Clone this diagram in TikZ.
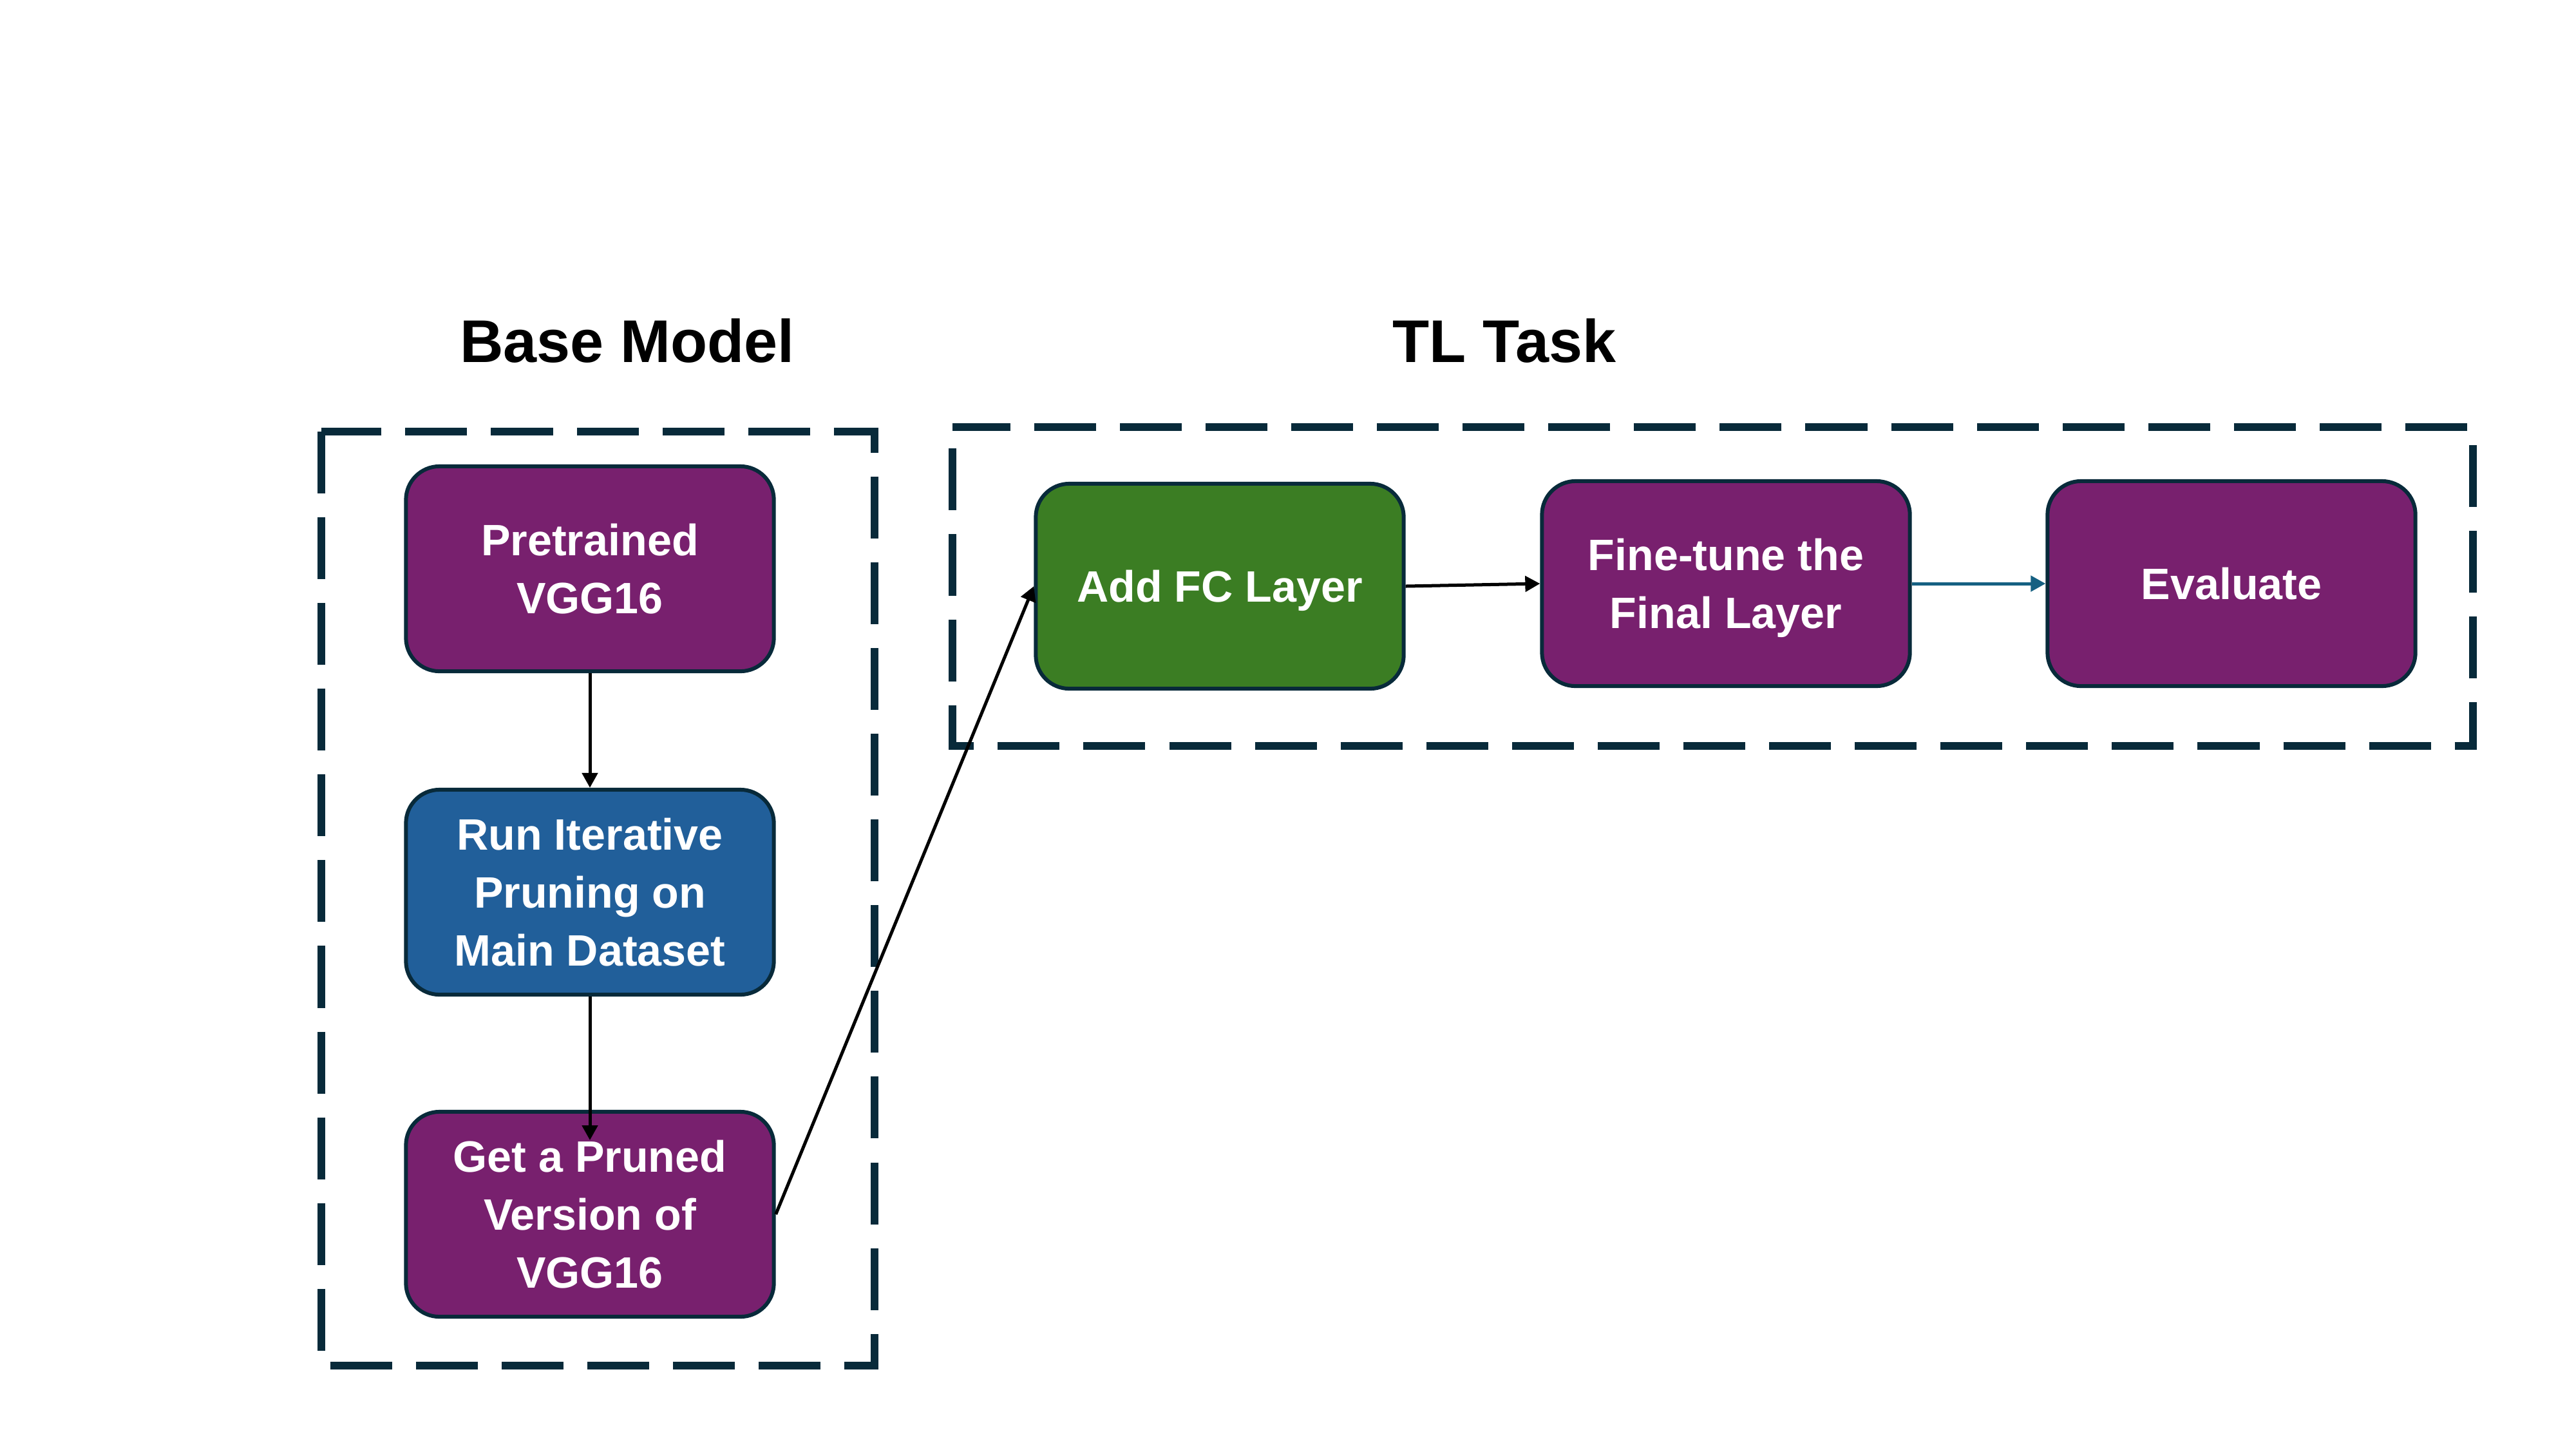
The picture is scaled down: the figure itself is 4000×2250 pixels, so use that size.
\documentclass[tikz,border=0pt]{standalone}
\usepackage{fontspec}
\setmainfont{Liberation Sans}
\usetikzlibrary{arrows.meta}
\definecolor{boxpurple}{HTML}{78206E}
\definecolor{boxblue}{HTML}{215F9A}
\definecolor{boxgreen}{HTML}{3B7D23}
\definecolor{edgedark}{HTML}{082A3A}
\definecolor{arrowteal}{HTML}{156082}
\tikzset{
  stepbox/.style={draw=edgedark, line width=0.06cm, rounded corners=0.52cm,
    minimum width=5.71cm, minimum height=3.18cm, inner sep=0pt,
    text=white, align=center, font=\fontsize{19.4}{25.6}\selectfont\bfseries},
  groupbox/.style={draw=edgedark, line width=0.12cm, dash pattern=on 0.96cm off 0.37cm},
  titletext/.style={anchor=base, font=\fontsize{26.6}{32}\selectfont\bfseries, inner sep=0pt},
  flow/.style={draw=black, line width=0.05cm, -{Triangle[length=0.23cm, width=0.24cm]}},
}
\begin{document}
\begin{tikzpicture}[x=0.01cm, y=-0.01cm]
\path[use as bounding box, fill=white] (0,0) rectangle (4000,2250);

% titles
\node[titletext] (tbase) at (974,562) {Base Model};
\node[titletext] (ttl) at (2336,562) {TL Task};

% group boxes
\draw[groupbox] (499,670) rectangle (1358,2120);
\draw[groupbox, dash phase=1.0cm] (1479,663) rectangle (3840,1158);

% left column
\node[stepbox, fill=boxpurple] (pre) at (916,883) {Pretrained\\VGG16};
\node[stepbox, fill=boxblue] (run) at (916,1385) {Run Iterative\\Pruning on\\Main Dataset};
\node[stepbox, fill=boxpurple] (get) at (916,1885) {Get a Pruned\\Version of\\VGG16};

% right row
\node[stepbox, fill=boxgreen, text depth=0pt] (add) at (1894,910) {Add FC Layer};
\node[stepbox, fill=boxpurple, text depth=0pt] (fine) at (2680,906) {Fine-tune the\\Final Layer};
\node[stepbox, fill=boxpurple] (eval) at (3465,906) {Evaluate};

% connectors
\coordinate (getin) at (916,1770);
\draw[flow] (pre.south) -- (run.north);
\draw[flow] (run.south) -- (getin);
\draw[flow] (get.east) -- (add.west);
\draw[flow] (add.east) -- (fine.west);
\draw[flow, draw=arrowteal] (fine.east) -- (eval.west);
\end{tikzpicture}
\end{document}
